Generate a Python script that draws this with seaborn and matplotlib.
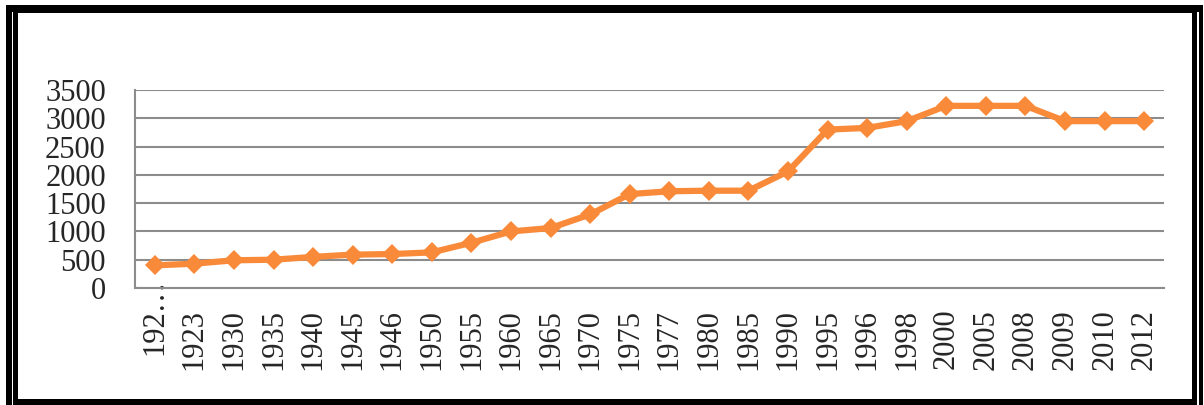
import numpy as np
import pandas as pd
import matplotlib
matplotlib.use("Agg")
import matplotlib.pyplot as plt
from matplotlib.patches import Rectangle
from matplotlib.transforms import ScaledTranslation
import seaborn as sns

# Data
years = ["192…", "1923", "1930", "1935", "1940", "1945", "1946", "1950", "1955",
         "1960", "1965", "1970", "1975", "1977", "1980", "1985", "1990", "1995",
         "1996", "1998", "2000", "2005", "2008", "2009", "2010", "2012"]
values = [400, 430, 490, 500, 550, 590, 600, 630, 800,
          1000, 1060, 1300, 1660, 1710, 1720, 1720, 2060, 2800,
          2830, 2950, 3220, 3220, 3220, 2950, 2950, 2950]
y_ticks = [0, 500, 1000, 1500, 2000, 2500, 3000, 3500]

ORANGE = "#F98A3A"
GRID = "#8C8C8C"

sns.set_style("white")
plt.rcParams['font.family'] = ['Liberation Serif', 'DejaVu Serif']

W, H = 1204, 405
fig = plt.figure(figsize=(W / 100, H / 100), dpi=100)

# double black frame around the chart
def px_rect(x0, y0, x1, y1, color):
    fig.add_artist(Rectangle((x0 / W, 1 - y1 / H), (x1 - x0) / W, (y1 - y0) / H,
                             transform=fig.transFigure, facecolor=color,
                             edgecolor="none", zorder=0))

px_rect(6, 5, 1203, 405, "black")
px_rect(18, 13, 1192, 399, "white")
px_rect(12, 12, 13, 405, "white")
px_rect(1197, 12, 1199, 405, "white")

ax = fig.add_axes([135 / W, 1 - 288 / H, (1164 - 135) / W, (288 - 90) / H])
ax.patch.set_alpha(0)

df = pd.DataFrame({"year": years, "value": values})
sns.lineplot(data=df, x="year", y="value", sort=False, ax=ax, color=ORANGE,
             linewidth=4.5, marker="D", markersize=10.5, markeredgewidth=0)

ax.set_xlim(-0.5, len(years) - 0.5)
ax.set_ylim(0, 3500)
ax.set_yticks(y_ticks)
ax.set_yticklabels([str(v) for v in y_ticks], fontsize=22)
ax.yaxis.grid(True, color=GRID, linewidth=1.5)
ax.set_axisbelow(True)

ax.set_xticks(np.arange(len(years)))
ax.set_xticklabels(years, rotation=90, fontsize=22)
ax.set_xticks(np.arange(len(years) + 1) - 0.5, minor=True)
ax.tick_params(axis="x", which="major", length=0, pad=15)
ax.tick_params(axis="x", which="minor", length=7, width=1.5, color=GRID, direction="out")
ax.tick_params(axis="y", length=9, width=1.5, color=GRID, direction="out", pad=12)

# truncated first label: its ellipsis pokes up above the axis, as in the original
first = ax.get_xticklabels()[0]
first.set_transform(first.get_transform() + ScaledTranslation(0, 22 / 72, fig.dpi_scale_trans))

for side in ["top", "right"]:
    ax.spines[side].set_visible(False)
for side in ["left", "bottom"]:
    ax.spines[side].set_color(GRID)
    ax.spines[side].set_linewidth(1.5)

ax.set_xlabel("")
ax.set_ylabel("")

fig.savefig("out.png", dpi=100)
